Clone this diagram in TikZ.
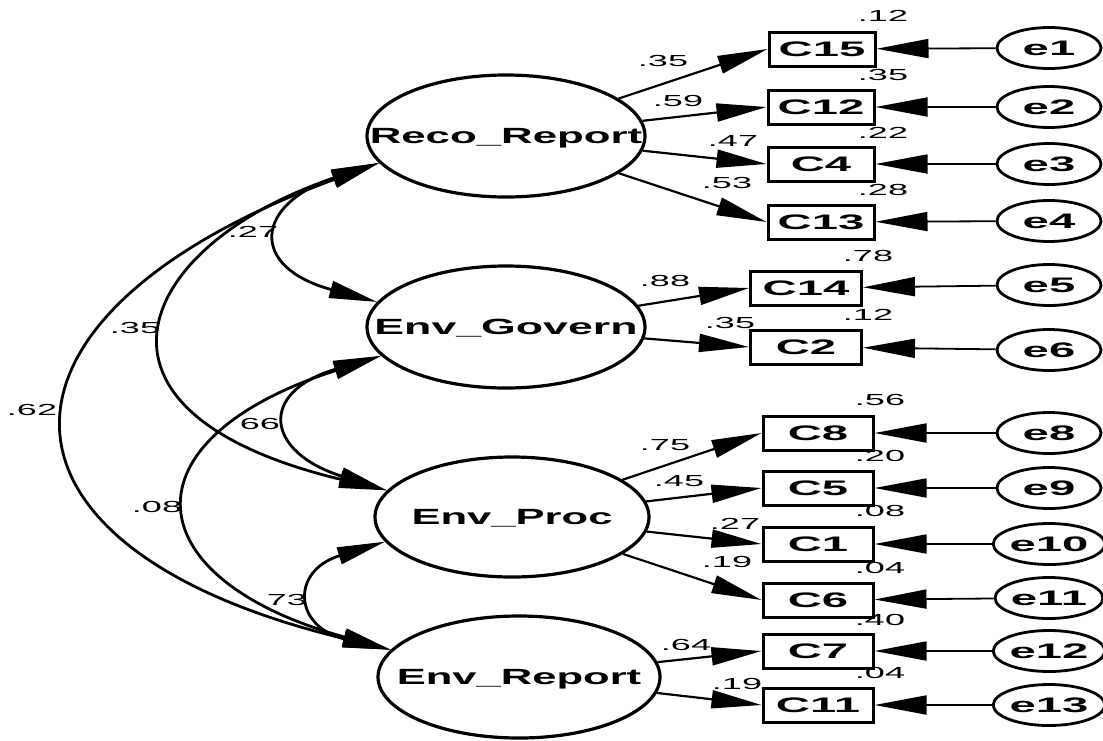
\documentclass[tikz,border=0pt]{standalone}
\usepackage{fontspec}
\setmainfont{Liberation Sans}
\usepackage{graphicx}
\usetikzlibrary{shapes.geometric,arrows.meta}
\newcommand{\sx}[2][2.25]{\scalebox{#1}[1]{#2}}
\begin{document}
\begin{tikzpicture}[x=1pt,y=-1pt,
 latent/.style={ellipse,draw,line width=3.2pt,minimum width=278pt,minimum height=122pt,inner sep=0pt,font=\fontsize{22}{26}\selectfont\bfseries,text depth=0pt},
 obs/.style={rectangle,draw,line width=3pt,minimum width=106pt,minimum height=34pt,inner sep=0pt,font=\fontsize{21}{24}\selectfont\bfseries},
 err/.style={ellipse,draw,line width=2.8pt,minimum width=104pt,minimum height=41pt,inner sep=0pt,font=\fontsize{21}{24}\selectfont\bfseries},
 lbl/.style={inner sep=0pt,font=\fontsize{16}{18}\selectfont},
 load/.style={line width=2.2pt,-{Triangle[length=50pt,width=18pt]}},
 erra/.style={line width=1.8pt,-{Triangle[length=52pt,width=19pt]}},
 cov/.style={line width=2.8pt,{Triangle[length=48pt,width=17pt]}-{Triangle[length=48pt,width=17pt]}},
]
\path[use as bounding box,fill=white] (0,0) rectangle (1103,740);

% latent variables
\node[latent] (reco) at (506,136) {\makebox[0pt]{\sx[1.99]{Reco\_Report}}};
\node[latent] (gov) at (506,327) {\makebox[0pt]{\sx[2.03]{Env\_Govern}}};
\node[latent,minimum width=274pt,minimum height=120pt] (proc) at (512,517) {\makebox[0pt]{\sx[1.98]{Env\_Proc}}};
\node[latent,minimum width=282pt] (rep) at (519,677) {\makebox[0pt]{\sx[1.98]{Env\_Report}}};

% observed variables
\node[obs] (c15) at (822,49) {\sx{C15}};
\node[obs] (c12) at (821,107) {\sx{C12}};
\node[obs] (c4) at (821,164) {\sx{C4}};
\node[obs] (c13) at (821,222) {\sx{C13}};
\node[obs,minimum width=111pt] (c14) at (806,288) {\sx{C14}};
\node[obs,minimum width=111pt] (c2) at (806,347) {\sx{C2}};
\node[obs,minimum width=110pt] (c8) at (818,433) {\sx{C8}};
\node[obs,minimum width=110pt] (c5) at (818,488) {\sx{C5}};
\node[obs,minimum width=110pt] (c1) at (818,544) {\sx{C1}};
\node[obs,minimum width=110pt] (c6) at (818,600) {\sx{C6}};
\node[obs,minimum width=110pt] (c7) at (818,651) {\sx{C7}};
\node[obs,minimum width=110pt] (c11) at (818,705) {\sx{C11}};

% error terms
\node[err] (e1) at (1049,48) {\sx{e1}};
\node[err] (e2) at (1049,107) {\sx{e2}};
\node[err] (e3) at (1049,164) {\sx{e3}};
\node[err] (e4) at (1049,221) {\sx{e4}};
\node[err] (e5) at (1049,285) {\sx{e5}};
\node[err] (e6) at (1049,350) {\sx{e6}};
\node[err] (e8) at (1049,433) {\sx{e8}};
\node[err] (e9) at (1049,488) {\sx{e9}};
\node[err] (e10) at (1049,544) {\sx{e10}};
\node[err] (e11) at (1049,598) {\sx{e11}};
\node[err] (e12) at (1049,651) {\sx{e12}};
\node[err] (e13) at (1049,705) {\sx{e13}};

% loadings
\draw[load] (reco) -- (c15.west);
\draw[load] (reco) -- (c12.west);
\draw[load] (reco) -- (c4.west);
\draw[load] (reco) -- (c13.west);
\draw[load] (gov) -- (c14.west);
\draw[load] (gov) -- (c2.west);
\draw[load] (proc) -- (c8.west);
\draw[load] (proc) -- (c5.west);
\draw[load] (proc) -- (c1.west);
\draw[load] (proc) -- (c6.west);
\draw[load] (rep) -- (c7.west);
\draw[load] (rep) -- (c11.west);

% error arrows
\foreach \e/\c in {e1/c15,e2/c12,e3/c4,e4/c13,e5/c14,e6/c2,e8/c8,e9/c5,e10/c1,e11/c6,e12/c7,e13/c11}
  \draw[erra] (\e) -- (\c);

% loading labels
\node[lbl] (l1) at (663,61) {\sx{.35}};
\node[lbl] (l2) at (678,101) {\sx{.59}};
\node[lbl] (l3) at (733,141) {\sx{.47}};
\node[lbl] (l4) at (727,183) {\sx{.53}};
\node[lbl] (l5) at (665,281) {\sx{.88}};
\node[lbl] (l6) at (730,323) {\sx{.35}};
\node[lbl] (l7) at (665,445) {\sx{.75}};
\node[lbl] (l8) at (679,481) {\sx{.45}};
\node[lbl] (l9) at (735,524) {\sx{.27}};
\node[lbl] (l10) at (727,562) {\sx{.19}};
\node[lbl] (l11) at (686,645) {\sx{.64}};
\node[lbl] (l12) at (737,684) {\sx{.19}};

% R-squared labels
\node[lbl] (r1) at (883,16) {\sx{.12}};
\node[lbl] (r2) at (883,75) {\sx{.35}};
\node[lbl] (r3) at (883,133) {\sx{.22}};
\node[lbl] (r4) at (883,190) {\sx{.28}};
\node[lbl] (r5) at (868,256) {\sx{.78}};
\node[lbl] (r6) at (868,315) {\sx{.12}};
\node[lbl] (r7) at (880,400) {\sx{.56}};
\node[lbl] (r8) at (880,456) {\sx{.20}};
\node[lbl] (r9) at (880,511) {\sx{.08}};
\node[lbl] (r10) at (880,568) {\sx{.04}};
\node[lbl] (r11) at (880,620) {\sx{.40}};
\node[lbl] (r12) at (880,673) {\sx{.04}};

% covariance labels
\node[lbl] (k1) at (253,232) {\sx{.27}};
\node[lbl] (k2) at (135,328) {\sx{.35}};
\node[lbl] (k3) at (32,410) {\sx{.62}};
\node[lbl] (k4) at (260,424) {\sx{66}};
\node[lbl] (k5) at (157,507) {\sx{.08}};
\node[lbl] (k6) at (287,600) {\sx{73}};

% covariances
\draw[cov] (reco.192) .. controls (255,204) and (248,267) .. (gov.169);
\draw[cov] (reco.192) .. controls (139,243) and (56,411) .. (proc.168);
\draw[cov] (reco.192) .. controls (-35,315) and (-33,548) .. (rep.168);
\draw[cov] (gov.193) .. controls (258,392) and (265,452) .. (proc.168);
\draw[cov] (gov.193) .. controls (120,440) and (134,579) .. (rep.168);
\draw[cov] (proc.191) .. controls (290,571) and (294,627) .. (rep.168);
\end{tikzpicture}
\end{document}
